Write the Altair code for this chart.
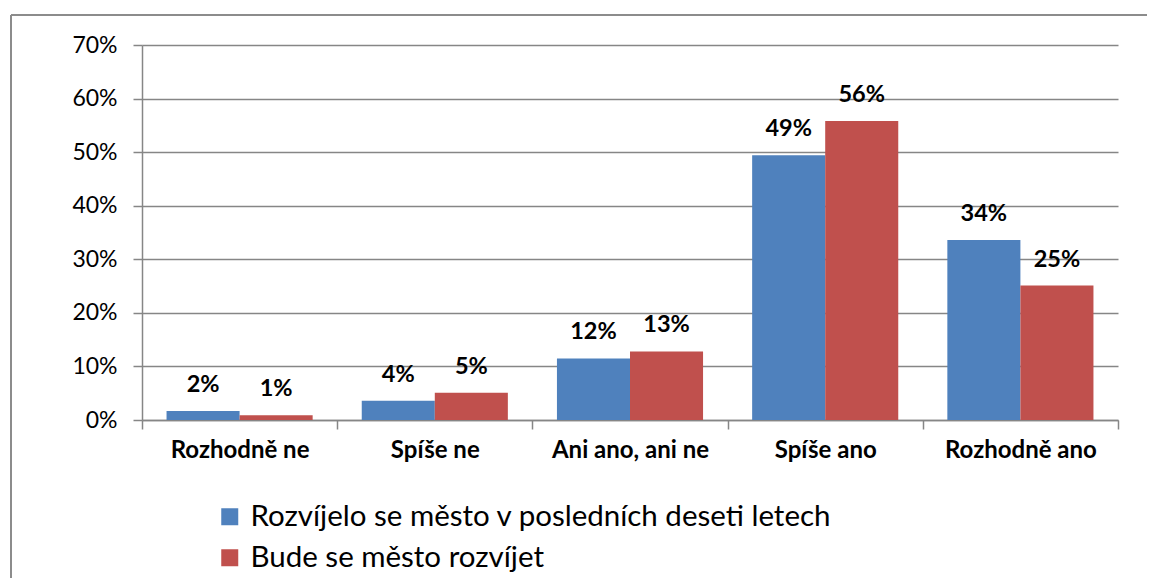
import altair as alt
import pandas as pd

categories = ["Rozhodně ne", "Spíše ne", "Ani ano, ani ne", "Spíše ano", "Rozhodně ano"]
series_names = ["Rozvíjelo se město v posledních deseti letech", "Bude se město rozvíjet"]
past_values = [1.7, 3.6, 11.5, 49.4, 33.6]
future_values = [0.9, 5.1, 12.8, 55.8, 25.1]
label_past = ["2%", "4%", "12%", "49%", "34%"]
label_future = ["1%", "5%", "13%", "56%", "25%"]
colors = ["#4F81BD", "#C0504D"]

rows = []
for c, v, l in zip(categories, past_values, label_past):
    rows.append({"cat": c, "series": series_names[0], "value": v / 100, "label": l})
for c, v, l in zip(categories, future_values, label_future):
    rows.append({"cat": c, "series": series_names[1], "value": v / 100, "label": l})
df = pd.DataFrame(rows)

W, H = 976, 375
PAD_R = 29
FONT = "Lato"
GRAY = "#868686"

x_enc = alt.X("cat:N", sort=categories,
              scale=alt.Scale(paddingInner=0, paddingOuter=0),
              axis=alt.Axis(title=None, labelAngle=0, labelFont=FONT, labelFontSize=24,
                            labelFontWeight="bold", labelColor="black", labelPadding=9,
                            tickBand="extent", tickSize=9, tickColor=GRAY, tickWidth=1.5,
                            domainColor=GRAY, domainWidth=1.5, grid=False))
xoff = alt.XOffset("series:N", sort=series_names,
                   scale=alt.Scale(paddingInner=0, paddingOuter=0.336))
y_enc = alt.Y("value:Q", scale=alt.Scale(domain=[0, 0.7]),
              axis=alt.Axis(title=None, format=".0%", values=[0, 0.1, 0.2, 0.3, 0.4, 0.5, 0.6, 0.7],
                            labelFont=FONT, labelFontSize=23, labelColor="black", labelPadding=16,
                            tickSize=9, tickColor=GRAY, tickWidth=1.5, domainColor=GRAY,
                            domainWidth=1.5, gridColor=GRAY, gridWidth=1.5))

bars = alt.Chart(df).mark_bar().encode(
    x=x_enc, xOffset=xoff, y=y_enc,
    color=alt.Color("series:N", sort=series_names,
                    scale=alt.Scale(domain=series_names, range=colors),
                    legend=alt.Legend(title=None, orient="none", legendX=73, legendY=457,
                                      direction="vertical", symbolType="square", symbolSize=289,
                                      symbolStrokeWidth=0, labelFont=FONT, labelFontSize=29.5,
                                      labelColor="black", labelOffset=6, rowPadding=10,
                                      padding=0, labelLimit=900)),
)

labels = alt.Chart(df).mark_text(font=FONT, fontSize=23.5, fontWeight="bold", color="black",
                                 baseline="alphabetic", dy=-19).encode(
    x=alt.X("cat:N", sort=categories), xOffset=alt.XOffset("series:N", sort=series_names),
    y="value:Q", text="label:N")

frame_df = pd.DataFrame({"k": [0]})
frame_top = alt.Chart(frame_df).mark_rule(color="#8c8c8c", strokeWidth=2).encode(
    x=alt.value(-131), x2=alt.value(W + PAD_R), y=alt.value(-30))
frame_left = alt.Chart(frame_df).mark_rule(color="#8c8c8c", strokeWidth=2).encode(
    x=alt.value(-131), y=alt.value(-30), y2=alt.value(H + 158))

chart = alt.layer(frame_top, frame_left, bars, labels).properties(
    width=W, height=H,
    autosize=alt.AutoSizeParams(type="none"),
    padding={"left": 134, "top": 37, "right": PAD_R, "bottom": 158},
).configure_view(stroke=None)

chart.save("out.html", embed_options={"renderer": "svg", "actions": False})
